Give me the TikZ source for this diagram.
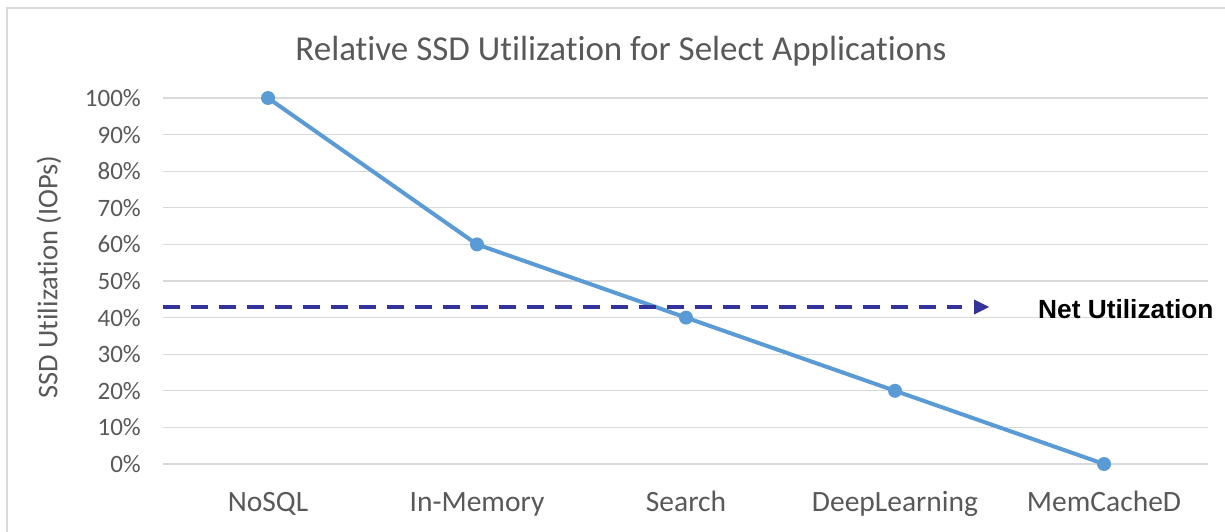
\documentclass[tikz,border=0pt]{standalone}
\usepackage{fontspec}
\setmainfont{Carlito}[Ligatures={NoCommon}]
\newfontfamily\arialbold{Liberation Sans}[BoldFont={Liberation Sans Bold}]
\usetikzlibrary{arrows.meta}
\definecolor{gridgray}{HTML}{D9D9D9}
\definecolor{textgray}{HTML}{595959}
\definecolor{serieblue}{HTML}{5B9BD5}
\definecolor{netblue}{HTML}{333399}
\tikzset{
  grid line/.style={draw=gridgray, line width=1.3pt},
  frame line/.style={draw=gridgray, line width=2pt},
  tick label/.style={text=textgray, font=\fontsize{25}{28}\selectfont, inner sep=0pt},
  cat label/.style={text=textgray, font=\fontsize{29.5}{32}\selectfont, inner sep=0pt, anchor=base},
  series/.style={draw=serieblue, line width=4pt, line join=round},
  marker/.style={fill=serieblue},
  net line/.style={draw=netblue, line width=4pt, dash pattern=on 17pt off 11pt},
}
\begin{document}
\begin{tikzpicture}[x=1pt, y=-1pt]
  % canvas
  \useasboundingbox (0,0) rectangle (1225,532);
  \fill[white] (0,0) rectangle (1225,532);
  % chart frame (top and left edges)
  \draw[frame line] (7,532) -- (7,8) -- (1225,8);

  % title
  \node[text=textgray, font=\fontsize{35}{40}\selectfont, anchor=base, inner sep=0pt] (title) at (621,61)
    {Relative SSD Utilization for Select Applications};

  % horizontal grid lines and value labels
  \foreach \v in {0,10,...,100} {
    \pgfmathsetmacro{\yy}{464-3.66*\v}
    \draw[grid line] (163,\yy) -- (1208,\yy);
    \node[tick label, anchor=east] (tick\v) at (141,\yy) {\v\%};
  }

  % value axis title
  \node[text=textgray, font=\fontsize{28.5}{32}\selectfont, rotate=90, inner sep=0pt] (ytitle) at (49,277)
    {SSD Utilization (IOPs)};

  % category labels
  \foreach \x/\name in {268/NoSQL, 477/In-Memory, 686/Search, 895/DeepLearning, 1104/MemCacheD}
    \node[cat label] at (\x,511) {\name};

  % data series
  \coordinate (p1) at (268,{464-3.66*100});
  \coordinate (p2) at (477,{464-3.66*60});
  \coordinate (p3) at (686,{464-3.66*40});
  \coordinate (p4) at (895,{464-3.66*20});
  \coordinate (p5) at (1104,{464-3.66*0});
  \draw[series] (p1) -- (p2) -- (p3) -- (p4) -- (p5);
  \foreach \p in {p1,p2,p3,p4,p5}
    \fill[marker] (\p) circle (7);

  % net utilization marker line
  \coordinate (netstart) at (163,307);
  \coordinate (netend) at (962,307);
  \coordinate (nettip) at (989,307);
  \draw[net line] (netstart) -- (netend);
  \fill[netblue] ([xshift=-15pt,yshift=7.5pt]nettip) -- (nettip) -- ([xshift=-15pt,yshift=-7.5pt]nettip) -- cycle;
  \node[font=\arialbold\bfseries\fontsize{26.3}{29}\selectfont, anchor=base west, inner sep=0pt] (netlabel) at (1038,318)
    {Net Utilization};
\end{tikzpicture}
\end{document}
